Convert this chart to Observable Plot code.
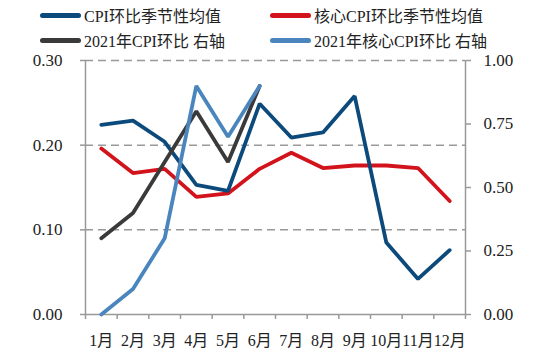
<!DOCTYPE html>
<html><head><meta charset="utf-8">
<script src="https://cdn.jsdelivr.net/npm/d3@7"></script>
<script src="https://cdn.jsdelivr.net/npm/@observablehq/plot@0.6"></script>
<style>
body{margin:0;background:#fff;font-family:"Liberation Serif","Noto Sans CJK SC",serif;}
#legend{position:relative;height:50px;width:550px;font-size:16px;color:#222}
.item{position:absolute;display:flex;align-items:center;white-space:nowrap;height:24px}
.sw{width:41px;height:5px;border-radius:2.5px;margin-right:3px}
#chart svg{display:block}
</style></head><body>
<div id="legend"></div><div id="chart"></div>
<script>
const months = ["1月","2月","3月","4月","5月","6月","7月","8月","9月","10月","11月","12月"];
const cpiSeasonal  = [0.224,0.229,0.204,0.153,0.146,0.249,0.209,0.215,0.258,0.085,0.042,0.076];
const coreSeasonal = [0.196,0.167,0.172,0.139,0.143,0.172,0.191,0.173,0.176,0.176,0.173,0.134];
const cpi2021      = [0.30,0.40,0.60,0.80,0.60,0.90];
const core2021     = [0.00,0.10,0.30,0.90,0.70,0.90];
const leftTicks  = [0,0.1,0.2,0.3];
const rightTicks = [0,0.25,0.5,0.75,1];
const seriesNames = ["CPI环比季节性均值","核心CPI环比季节性均值","2021年CPI环比 右轴","2021年核心CPI环比 右轴"];

const colors = ["#0d4a7c","#d3131c","#3a3a3a","#4a86bd"];
const RS = 0.3; // right axis 1.00 maps to left 0.30

const series = [
  {name: seriesNames[0], values: cpiSeasonal, right:false, color: colors[0]},
  {name: seriesNames[1], values: coreSeasonal, right:false, color: colors[1]},
  {name: seriesNames[2], values: cpi2021, right:true, color: colors[2]},
  {name: seriesNames[3], values: core2021, right:true, color: colors[3]}
];
const toRows = s => s.values.map((v,i)=>({m:i+1, v: s.right ? v*RS : v}));

// legend
const legend = document.getElementById("legend");
const pos = [[40,3],[270,3],[40,28],[270,28]];
series.forEach((s,i)=>{
  const d = document.createElement("div");
  d.className="item"; d.style.left=pos[i][0]+"px"; d.style.top=pos[i][1]+"px";
  d.innerHTML = `<span class="sw" style="background:${s.color}"></span><span>${s.name}</span>`;
  legend.appendChild(d);
});

const font = '"Liberation Serif","Noto Sans CJK SC",serif';
const order = [1,0,2,3];
const chart = Plot.plot({
  width:550, height:305,
  marginTop:10, marginBottom:41, marginLeft:85, marginRight:85,
  x:{domain:[0.5,12.5]},
  y:{domain:[0,0.3]},
  style:{fontFamily:font, fontSize:"17px", color:"#222", background:"#fff"},
  marks:[
    Plot.ruleY([0.1,0.2,0.3], {stroke:"#999", strokeWidth:1.5, strokeDasharray:"8,5"}),
    Plot.ruleX([0.5,12.5], {stroke:"#999", strokeWidth:1.5}),
    Plot.ruleY([0], {stroke:"#999", strokeWidth:1.5}),
    Plot.axisY({anchor:"left", ticks:leftTicks, tickFormat:d=>d.toFixed(2), tickSize:5, tickPadding:18, stroke:"#999", fill:"#222", strokeWidth:1.5, label:null, fontSize:17}),
    Plot.axisY({anchor:"right", ticks:rightTicks.map(t=>t*RS), tickFormat:d=>(d/RS).toFixed(2), tickSize:5, tickPadding:13, stroke:"#999", fill:"#222", strokeWidth:1.5, label:null, fontSize:17}),
    Plot.axisX({ticks:d3.range(0.5,13,1), tickSize:5, tickFormat:()=>"", stroke:"#999", strokeWidth:1.5, label:null}),
    Plot.axisX({ticks:d3.range(1,13), tickSize:0, tickPadding:20, tickFormat:d=>months[d-1], fill:"#222", label:null, fontSize:16}),
    ...order.map(i=>Plot.line(toRows(series[i]), {x:"m", y:"v", stroke:series[i].color, strokeWidth:3.8, strokeLinejoin:"miter", strokeLinecap:"round"}))
  ]
});
document.getElementById("chart").appendChild(chart);
</script>
</body></html>
